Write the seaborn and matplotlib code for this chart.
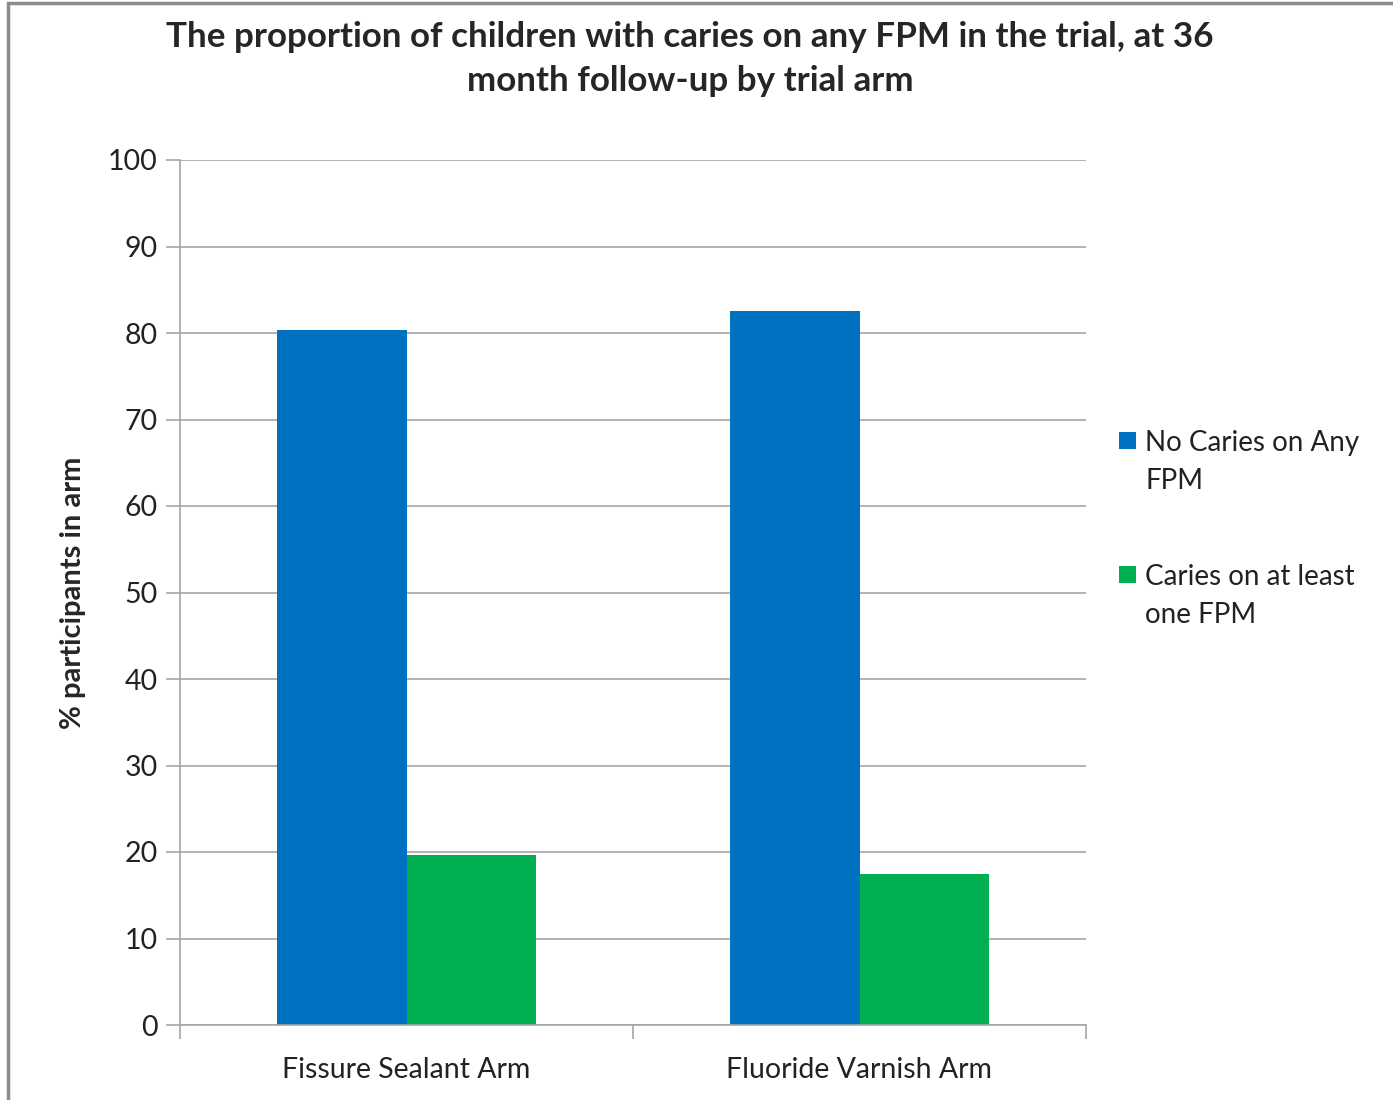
import pandas as pd
import matplotlib
matplotlib.use('Agg')
import matplotlib.pyplot as plt
import seaborn as sns
from matplotlib.patches import Rectangle

# Data
arms = ['Fissure Sealant Arm', 'Fluoride Varnish Arm']
no_caries = [80.4, 82.5]
caries = [19.6, 17.5]
series_names = ['No Caries on Any\nFPM', 'Caries on at least\none FPM']
colors = ['#0070C0', '#00B050']

df = pd.DataFrame({
    'arm': arms * 2,
    'value': no_caries + caries,
    'series': [series_names[0]] * 2 + [series_names[1]] * 2,
})

sns.set_style('white')
plt.rcParams['font.family'] = ['Lato', 'DejaVu Sans']

fig = plt.figure(figsize=(13.93, 11), dpi=100)
ax = fig.add_axes([180 / 1393, 1 - 1025 / 1100, 906 / 1393, 865 / 1100])

sns.barplot(data=df, x='arm', y='value', hue='series', palette=colors,
            width=0.57, saturation=1, linewidth=0, ax=ax, legend=False)

ax.set_ylim(0, 100)
ax.set_xlim(-0.5, 1.5)
ax.set_yticks(range(0, 101, 10))
ax.yaxis.grid(True, color='#A6A6A6', linewidth=1.2)
ax.set_axisbelow(True)
for s in ['top', 'right']:
    ax.spines[s].set_visible(False)
for s in ['left', 'bottom']:
    ax.spines[s].set_color('#A6A6A6')
    ax.spines[s].set_linewidth(1.2)

# category tick marks at boundaries, labels at centres
ax.set_xticks([-0.5, 0.5, 1.5], minor=False)
ax.set_xticklabels([])
ax.set_xticks([0, 1], minor=True)
ax.set_xticklabels(arms, minor=True, fontsize=20.5, color='#222222')
ax.tick_params(axis='x', which='major', length=10, width=1.2, color='#A6A6A6', direction='out', bottom=True)
ax.tick_params(axis='x', which='minor', length=0, pad=23)
ax.tick_params(axis='y', length=10, width=1.2, color='#A6A6A6', direction='out', left=True,
               labelsize=20.5, pad=6, labelcolor='#222222')

ax.set_xlabel('')
ax.set_ylabel('% participants in arm', fontsize=21, fontweight='bold', labelpad=16)

fig.text(690 / 1393, 1 - 59 / 1100,
         'The proportion of children with caries on any FPM in the trial, at 36\nmonth follow-up by trial arm',
         ha='center', va='center', fontsize=25.2, fontweight='bold', linespacing=1.45)

# legend: square marker beside the first line of each two-line label
legend_y = [441, 575]
for name, c, y in zip(series_names, colors, legend_y):
    fig.patches.append(Rectangle((1119 / 1393, 1 - (y + 8) / 1100), 17 / 1393, 17 / 1100,
                                 transform=fig.transFigure, facecolor=c, edgecolor='none'))
    fig.text(1145 / 1393, 1 - (y - 11) / 1100, name, ha='left', va='top',
             fontsize=20, color='#222222', linespacing=1.55)

fig.patches.append(Rectangle((8 / 1393, -0.01), 1.1, 1 - 3 / 1100 + 0.01, transform=fig.transFigure,
                             fill=False, edgecolor='#8C8C8C', linewidth=2.5))

fig.savefig('out.png', dpi=100)
